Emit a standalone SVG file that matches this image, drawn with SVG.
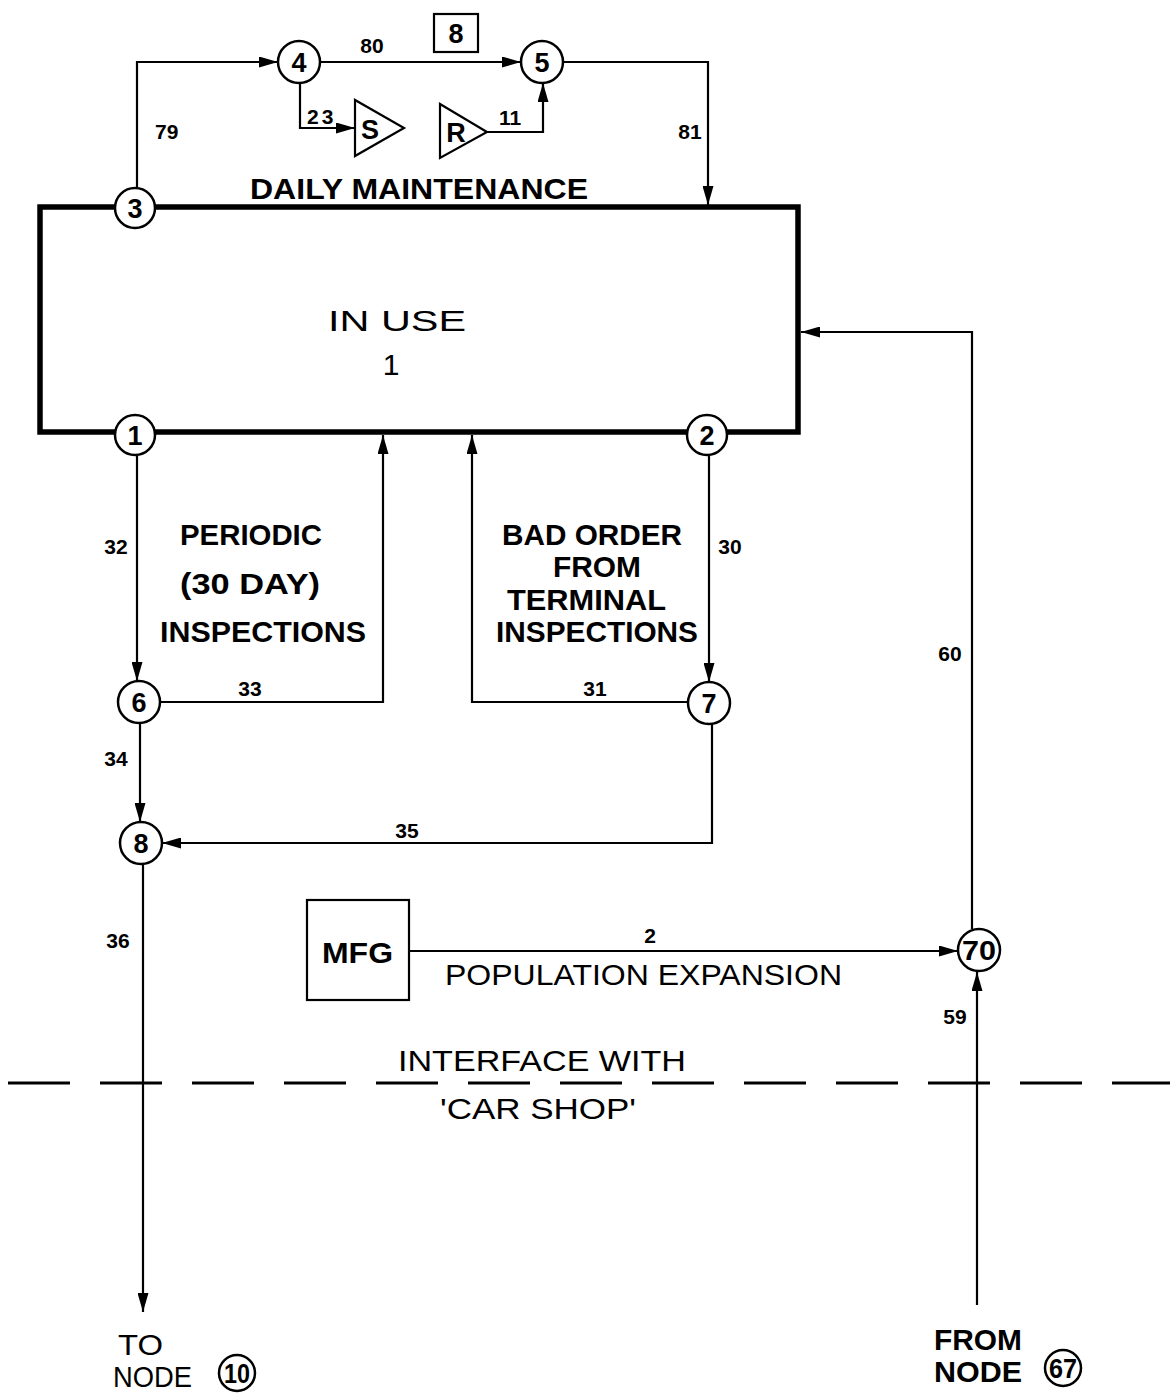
<svg xmlns="http://www.w3.org/2000/svg" width="1170" height="1398" viewBox="0 0 1170 1398">
<style>
.ln{fill:none;stroke:#000;stroke-width:2.2}
.nd{fill:#fff;stroke:#000;stroke-width:2.5}
.nt{font-family:"Liberation Sans",Arial,sans-serif;font-weight:700;font-size:27px;text-anchor:middle;fill:#000}
.lb{font-family:"Liberation Sans",Arial,sans-serif;font-weight:700;font-size:21px;fill:#000}
.bt{font-family:"Liberation Sans",Arial,sans-serif;font-weight:700;font-size:30px;fill:#000}
.rt{font-family:"Liberation Sans",Arial,sans-serif;font-size:30px;fill:#000}
</style>
<defs>
<marker id="ah" markerWidth="20" markerHeight="11" refX="19" refY="5.5" orient="auto" markerUnits="userSpaceOnUse">
<path d="M0,0 L19,5.5 L0,11 Z" fill="#000"/>
</marker>
</defs>
<rect width="1170" height="1398" fill="#fff"/>

<g id="in-use">
<rect x="40" y="207" width="758" height="225" fill="none" stroke="#000" stroke-width="5.5"/>
<text class="rt" x="328" y="331" textLength="138" lengthAdjust="spacingAndGlyphs">IN  USE</text>
<text class="rt" x="391" y="375" text-anchor="middle">1</text>
</g>

<g id="connectors">
<path class="ln" d="M137,190 V62 H278" marker-end="url(#ah)"/>
<path class="ln" d="M320,62 H521" marker-end="url(#ah)"/>
<path class="ln" d="M300,83 V128 H355" marker-end="url(#ah)"/>
<path class="ln" d="M487,132 H543 V83" marker-end="url(#ah)"/>
<path class="ln" d="M563,62 H708 V205" marker-end="url(#ah)"/>
<path class="ln" d="M137,456 V681" marker-end="url(#ah)"/>
<path class="ln" d="M160,702 H383 V435" marker-end="url(#ah)"/>
<path class="ln" d="M688,702 H472 V435" marker-end="url(#ah)"/>
<path class="ln" d="M709,456 V682" marker-end="url(#ah)"/>
<path class="ln" d="M140,723 V822" marker-end="url(#ah)"/>
<path class="ln" d="M712,724 V843 H162" marker-end="url(#ah)"/>
<path class="ln" d="M143,864 V1312" marker-end="url(#ah)"/>
<path class="ln" d="M409,951 H958" marker-end="url(#ah)"/>
<path class="ln" d="M972,929 V332 H801" marker-end="url(#ah)"/>
<path class="ln" d="M977,1305 V972" stroke-width="3.2" marker-end="url(#ah)"/>
<line x1="8" y1="1083" x2="1170" y2="1083" stroke="#000" stroke-width="2.8" stroke-dasharray="62 30"/>
</g>

<g id="connector-labels">
<text class="lb" x="155" y="139">79</text>
<text class="lb" x="372" y="53" text-anchor="middle">80</text>
<text class="lb" x="307" y="124" letter-spacing="3">23</text>
<text class="lb" x="510" y="125" text-anchor="middle">11</text>
<text class="lb" x="690" y="139" text-anchor="middle">81</text>
<text class="lb" x="116" y="554" text-anchor="middle">32</text>
<text class="lb" x="730" y="554" text-anchor="middle">30</text>
<text class="lb" x="250" y="696" text-anchor="middle">33</text>
<text class="lb" x="595" y="696" text-anchor="middle">31</text>
<text class="lb" x="116" y="766" text-anchor="middle">34</text>
<text class="lb" x="407" y="838" text-anchor="middle">35</text>
<text class="lb" x="118" y="948" text-anchor="middle">36</text>
<text class="lb" x="650" y="943" text-anchor="middle">2</text>
<text class="lb" x="950" y="661" text-anchor="middle">60</text>
<text class="lb" x="955" y="1024" text-anchor="middle">59</text>
</g>

<g id="box-8">
<rect x="434" y="14" width="44" height="38" fill="#fff" stroke="#000" stroke-width="2.2"/>
<text class="nt" x="456" y="43">8</text>
</g>

<g id="node-3"><circle class="nd" cx="135" cy="208" r="20"/><text class="nt" x="135" y="218">3</text></g>
<g id="node-4"><circle class="nd" cx="299" cy="62" r="21"/><text class="nt" x="299" y="72">4</text></g>
<g id="node-5"><circle class="nd" cx="542" cy="62" r="21"/><text class="nt" x="542" y="72">5</text></g>
<g id="node-1"><circle class="nd" cx="135" cy="435" r="20"/><text class="nt" x="135" y="445">1</text></g>
<g id="node-2"><circle class="nd" cx="707" cy="435" r="20"/><text class="nt" x="707" y="445">2</text></g>
<g id="node-6"><circle class="nd" cx="139" cy="702" r="21"/><text class="nt" x="139" y="712">6</text></g>
<g id="node-7"><circle class="nd" cx="709" cy="703" r="21"/><text class="nt" x="709" y="713">7</text></g>
<g id="node-8"><circle class="nd" cx="141" cy="843" r="21"/><text class="nt" x="141" y="853">8</text></g>
<g id="node-70"><circle class="nd" cx="979" cy="950" r="21"/><text class="nt" x="979" y="960" textLength="34" lengthAdjust="spacingAndGlyphs">70</text></g>

<g id="source-S">
<polygon points="355,100 355,156 404,128" fill="#fff" stroke="#000" stroke-width="2.2"/>
<text class="nt" x="370" y="139">S</text>
</g>
<g id="sink-R">
<polygon points="440,104 440,158 487,132" fill="#fff" stroke="#000" stroke-width="2.2"/>
<text class="nt" x="456" y="142">R</text>
</g>

<g id="mfg">
<rect x="307" y="900" width="102" height="100" fill="#fff" stroke="#000" stroke-width="2.2"/>
<text class="bt" x="322" y="963" textLength="71" lengthAdjust="spacingAndGlyphs" font-size="26">MFG</text>
</g>

<g id="labels">
<text class="bt" x="250" y="199" textLength="338" lengthAdjust="spacingAndGlyphs">DAILY  MAINTENANCE</text>
<text class="bt" x="180" y="545" textLength="142" lengthAdjust="spacingAndGlyphs">PERIODIC</text>
<text class="bt" x="180" y="594" textLength="140" lengthAdjust="spacingAndGlyphs">(30 DAY)</text>
<text class="bt" x="160" y="642" textLength="206" lengthAdjust="spacingAndGlyphs">INSPECTIONS</text>
<text class="bt" x="502" y="545" textLength="180" lengthAdjust="spacingAndGlyphs">BAD ORDER</text>
<text class="bt" x="553" y="577" textLength="88" lengthAdjust="spacingAndGlyphs" font-size="28">FROM</text>
<text class="bt" x="507" y="610" textLength="159" lengthAdjust="spacingAndGlyphs" font-size="28">TERMINAL</text>
<text class="bt" x="496" y="642" textLength="202" lengthAdjust="spacingAndGlyphs" font-size="28">INSPECTIONS</text>
<text class="rt" x="445" y="985" textLength="397" lengthAdjust="spacingAndGlyphs">POPULATION EXPANSION</text>
<text class="rt" x="398" y="1071" textLength="288" lengthAdjust="spacingAndGlyphs">INTERFACE WITH</text>
<text class="rt" x="440" y="1119" textLength="196" lengthAdjust="spacingAndGlyphs">'CAR SHOP'</text>
<text class="rt" x="118" y="1355" textLength="45" lengthAdjust="spacingAndGlyphs" font-size="28">TO</text>
<text class="rt" x="113" y="1387" textLength="79" lengthAdjust="spacingAndGlyphs" font-size="28">NODE</text>
<text class="bt" x="934" y="1350" textLength="88" lengthAdjust="spacingAndGlyphs" font-size="27">FROM</text>
<text class="bt" x="934" y="1382" textLength="88" lengthAdjust="spacingAndGlyphs" font-size="27">NODE</text>
</g>

<g id="ref-node-10"><circle class="nd" cx="237" cy="1373" r="18"/><text class="nt" x="237" y="1383" textLength="26" lengthAdjust="spacingAndGlyphs">10</text></g>
<g id="ref-node-67"><circle class="nd" cx="1063" cy="1368" r="18" stroke-width="3.5"/><text class="nt" x="1063" y="1378" textLength="28" lengthAdjust="spacingAndGlyphs">67</text></g>
</svg>
